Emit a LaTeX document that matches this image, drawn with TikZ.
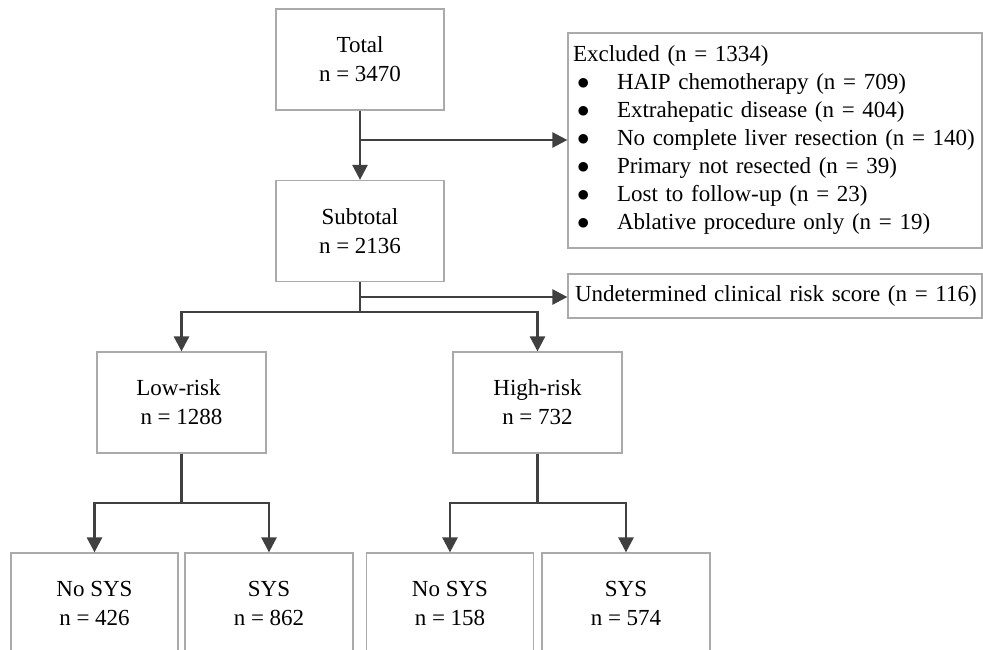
\documentclass[tikz,border=0pt]{standalone}
\usepackage{fontspec}
\setmainfont{Liberation Serif}
\usetikzlibrary{arrows.meta, positioning, calc}
\definecolor{boxline}{RGB}{170, 170, 170}
\definecolor{linkcolor}{RGB}{64, 64, 64}
\newcommand{\itemdot}{\makebox[44pt][l]{\hspace{4pt}$\bullet$}}

\begin{document}
\begin{tikzpicture}[
    x=1pt, y=-1pt,
    box/.style={draw=boxline, line width=1.2pt, minimum width=168pt, minimum height=101pt, align=center, inner sep=0pt, font=\fontsize{23}{29}\selectfont},
    listbox/.style={draw=boxline, line width=1.2pt, minimum width=414pt, text width=404pt, inner xsep=5pt, align=left, font=\fontsize{23}{28}\selectfont},
    link/.style={draw=linkcolor, line width=2.6pt},
    arrow/.style={link, -{Triangle[length=15pt, width=15pt]}}
]
    \useasboundingbox (0,0) rectangle (983,650);

    % Boxes
    \node[box] (total) at (360, 59.5) {Total\\n = 3470};
    \node[box] (subtotal) at (360, 231) {Subtotal\\n = 2136};
    \node[box, minimum width=169pt] (lowrisk) at (181.5, 402.5) {Low-risk\hspace*{6pt}\\n = 1288};
    \node[box, minimum width=169pt] (highrisk) at (537.5, 402.5) {High-risk\\n = 732};
    \node[box, minimum width=167pt] (lownosys) at (94.5, 603.5) {No SYS\\n = 426};
    \node[box] (lowsys) at (269, 603.5) {SYS\\n = 862};
    \node[box, minimum width=167pt] (highnosys) at (450, 603.5) {No SYS\\n = 158};
    \node[box] (highsys) at (626, 603.5) {SYS\\n = 574};

    % Exclusions
    \node[listbox, minimum height=215pt] (excluded) at (775, 140.5) {Excluded (n = 1334)\\
        \itemdot HAIP chemotherapy (n = 709)\\
        \itemdot Extrahepatic disease (n = 404)\\
        \itemdot No complete liver resection (n = 140)\\
        \itemdot Primary not resected (n = 39)\\
        \itemdot Lost to follow-up (n = 23)\\
        \itemdot Ablative procedure only (n = 19)};
    \node[listbox, minimum height=44pt, inner xsep=7pt, text width=400pt] (undetermined) at (775, 296) {\mbox{Undetermined clinical risk score (n = 116)}};

    % Connections
    \coordinate (split1) at (360, 140);
    \coordinate (split2) at (360, 297);
    \coordinate (fork) at (360, 312);
    \coordinate (lowfork) at (181.5, 503);
    \coordinate (highfork) at (537.5, 503);

    \draw[arrow] (total) -- (subtotal);
    \draw[arrow] (split1) -- (split1 -| excluded.west);

    \draw[link] (subtotal) -- (fork);
    \draw[arrow] (split2) -- (split2 -| undetermined.west);
    \draw[arrow] (fork) -| (lowrisk);
    \draw[arrow] (fork) -| (highrisk);

    \draw[link] (lowrisk) -- (lowfork);
    \draw[arrow] (lowfork) -| (lownosys);
    \draw[arrow] (lowfork) -| (lowsys);

    \draw[link] (highrisk) -- (highfork);
    \draw[arrow] (highfork) -| (highnosys);
    \draw[arrow] (highfork) -| (highsys);

\end{tikzpicture}
\end{document}
